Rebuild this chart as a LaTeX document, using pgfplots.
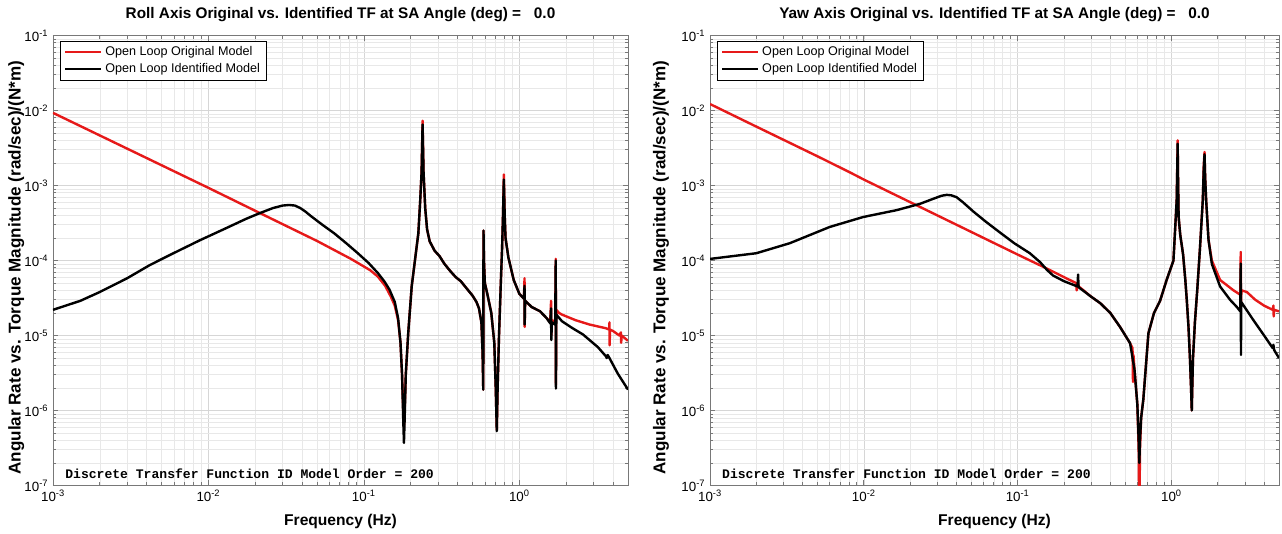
\documentclass[border=0pt]{standalone}
\usepackage{fontspec}
\setmainfont{Liberation Sans}
\newfontfamily\monofont{Liberation Mono}
\usepackage{pgfplots}
\pgfplotsset{compat=1.18}
\definecolor{origred}{RGB}{230,25,25}
\definecolor{framegray}{RGB}{120,120,120}
\pgfplotsset{every axis/.append style={
    scale only axis,
    height=337.5pt,
    xmin=1e-3, xmax=5, ymin=1e-7, ymax=1e-1,
    xtick={1e-3,1e-2,1e-1,1},
    xticklabels={10\textsuperscript{-3},10\textsuperscript{-2},10\textsuperscript{-1},10\textsuperscript{0}},
    ytick={1e-7,1e-6,1e-5,1e-4,1e-3,1e-2,1e-1},
    yticklabels={10\textsuperscript{-7},10\textsuperscript{-6},10\textsuperscript{-5},10\textsuperscript{-4},10\textsuperscript{-3},10\textsuperscript{-2},10\textsuperscript{-1}},
    minor xtick={0.002,0.003,0.004,0.005,0.006,0.007,0.008,0.009,0.02,0.03,0.04,0.05,0.06,0.07,0.08,0.09,0.2,0.3,0.4,0.5,0.6,0.7,0.8,0.9,2,3,4,5},
    minor ytick={2e-7,3e-7,4e-7,5e-7,6e-7,7e-7,8e-7,9e-7,2e-6,3e-6,4e-6,5e-6,6e-6,7e-6,8e-6,9e-6,2e-5,3e-5,4e-5,5e-5,6e-5,7e-5,8e-5,9e-5,2e-4,3e-4,4e-4,5e-4,6e-4,7e-4,8e-4,9e-4,2e-3,3e-3,4e-3,5e-3,6e-3,7e-3,8e-3,9e-3,2e-2,3e-2,4e-2,5e-2,6e-2,7e-2,8e-2,9e-2},
    grid=both,
    major grid style={gray!32, line width=0.4pt},
    minor grid style={gray!18, line width=0.4pt},
    tick align=inside,
    axis line style={framegray, line width=0.6pt},
    major tick style={framegray, line width=0.5pt},
    minor tick style={framegray, line width=0.5pt},
    major tick length=4pt, minor tick length=2.5pt,
    tick label style={font=\fontsize{10}{12}\selectfont},
    xlabel={Frequency (Hz)},
    ylabel={Angular Rate vs. Torque Magnitude (rad/sec)/(N*m)},
    xlabel style={font=\bfseries\fontsize{11.7}{13}\selectfont},
    ylabel style={font=\bfseries\fontsize{12.8}{14}\selectfont},
    title style={font=\bfseries\fontsize{11.5}{13}\selectfont, yshift=1pt},
    xlabel style={at={(axis description cs:0.5,-0.081)}, anchor=center},
    legend style={at={(rel axis cs:0.012,0.988)}, anchor=north west, draw=black, fill=white,
      font=\fontsize{9.45}{11}\selectfont, inner xsep=3pt, inner ysep=2pt, row sep=0.5pt},
    legend cell align=left,
  },
  every axis plot/.append style={line width=1.8pt, line join=round},
}
\begin{document}
\begin{tikzpicture}
\useasboundingbox (0,0) rectangle (961.5pt,400.5pt);
% ---------------- Roll axis ----------------
\begin{loglogaxis}[width=431.25pt, at={(39.75pt,36.375pt)}, anchor=south west,
  title={Roll Axis Original vs. Identified TF at SA Angle (deg) = \ \ 0.0},
  ylabel style={at={(axis description cs:-0.064,0.484)}, anchor=center},
  legend image code/.code={\draw[#1] (0cm,0cm) -- (0.95cm,0cm);}]
\addplot[origred] coordinates {
(0.001,9.3e-3)(0.002,4.65e-3)(0.005,1.86e-3)(0.01,9.3e-4)(0.02,4.6e-4)(0.05,1.82e-4)
(0.0826,1.05e-4)(0.11,7.4e-5)(0.123,6.1e-5)(0.137,4.6e-5)(0.149,3.3e-5)(0.158,2.5e-5)
(0.166,1.6e-5)(0.172,8e-6)(0.176,3e-6)(0.179,1e-6)(0.181,6e-7)(0.183,1e-6)(0.186,3e-6)
(0.193,1.1e-5)(0.203,4.5e-5)(0.213,1e-4)(0.224,2.3e-4)(0.23,6e-4)(0.235,1.5e-3)(0.2385,7.3e-3)
(0.242,1.5e-3)(0.248,5e-4)(0.255,2.6e-4)(0.265,1.8e-4)(0.285,1.35e-4)(0.306,1.15e-4)(0.33,9e-5)
(0.36,7.2e-5)(0.39,6e-5)(0.42,5.3e-5)(0.46,4.2e-5)(0.5,3.4e-5)(0.53,2.8e-5)
(0.55,2.3e-5)(0.57,1.5e-5)(0.58,6e-6)(0.586,1.9e-6)(0.588,2.5e-4)(0.592,1e-4)
(0.6,5e-5)(0.622,3.6e-5)(0.66,2e-5)(0.69,8e-6)(0.705,2e-6)(0.716,5.5e-7)(0.725,2e-6)
(0.74,1e-5)(0.76,5e-5)(0.775,1.5e-4)(0.785,4e-4)(0.795,1.4e-3)(0.805,4e-4)(0.815,2e-4)
(0.85,1.1e-4)(0.92,5.5e-5)(1.0,3.6e-5)(1.07,3.1e-5)(1.08,5.8e-5)(1.082,1.3e-5)(1.09,2.9e-5)
(1.2,2.4e-5)(1.36,2.1e-5)(1.5,1.7e-5)(1.58,1.5e-5)(1.6,2.9e-5)(1.605,1e-5)(1.62,1.6e-5)
(1.7,1.5e-5)(1.715,1.05e-4)(1.72,2.2e-6)(1.73,2.2e-5)(1.8,2e-5)(1.88,1.9e-5)(2.3,1.6e-5)
(2.83,1.4e-5)(3.6,1.25e-5)(3.79,1.2e-5)(3.8,1.5e-5)(3.81,7.4e-6)(3.83,1.2e-5)(4.0,1.15e-5)
(4.4,1e-5)(4.5,1.1e-5)(4.52,8e-6)(4.55,1e-5)(5.0,8.5e-6)
};
\addplot[black] coordinates {
(0.001,2.2e-5)(0.0015,2.9e-5)(0.002,3.8e-5)(0.003,5.8e-5)(0.0042,8.7e-5)(0.006,1.26e-4)
(0.0088,1.86e-4)(0.013,2.7e-4)(0.0175,3.6e-4)(0.0215,4.3e-4)(0.026,5.0e-4)(0.03,5.4e-4)
(0.033,5.5e-4)(0.036,5.4e-4)(0.039,5.0e-4)(0.042,4.5e-4)(0.0457,3.9e-4)(0.054,3.0e-4)(0.0645,2.3e-4)
(0.077,1.7e-4)(0.091,1.26e-4)(0.107,9.3e-5)
(0.123,6.8e-5)(0.136,5.2e-5)(0.146,4.1e-5)(0.158,2.8e-5)(0.166,1.7e-5)(0.172,8e-6)(0.176,3e-6)(0.179,8e-7)
(0.181,3.7e-7)(0.183,8e-7)(0.186,3e-6)(0.193,1.1e-5)(0.203,4.5e-5)(0.213,1e-4)(0.224,2.3e-4)
(0.23,6e-4)(0.235,1.5e-3)(0.2385,6.5e-3)(0.242,1.5e-3)(0.248,5e-4)(0.255,2.6e-4)(0.265,1.8e-4)
(0.285,1.35e-4)(0.306,1.15e-4)(0.33,9e-5)(0.36,7.2e-5)(0.39,6e-5)(0.42,5.3e-5)(0.46,4.2e-5)
(0.5,3.4e-5)(0.53,2.8e-5)(0.55,2.3e-5)(0.57,1.5e-5)(0.58,6e-6)
(0.586,1.9e-6)(0.588,2.5e-4)(0.592,1e-4)(0.6,5e-5)(0.622,3.6e-5)(0.66,2e-5)(0.69,8e-6)
(0.705,2e-6)(0.716,5.3e-7)(0.725,2e-6)(0.74,1e-5)(0.76,5e-5)(0.775,1.5e-4)(0.785,4e-4)
(0.795,1.2e-3)(0.805,4e-4)(0.815,2e-4)(0.85,1.1e-4)(0.92,5.5e-5)(1.0,3.6e-5)(1.07,3.1e-5)
(1.08,4.6e-5)(1.082,1.4e-5)(1.09,2.9e-5)(1.2,2.4e-5)(1.36,2.1e-5)(1.5,1.7e-5)(1.58,1.45e-5)
(1.6,2.3e-5)(1.605,8.7e-6)(1.62,1.5e-5)(1.7,1.4e-5)(1.715,1.0e-4)(1.72,1.96e-6)(1.73,1.9e-5)
(1.88,1.55e-5)(2.2,1.25e-5)(2.57,1.03e-5)(3.2,7e-6)(3.6,5.3e-6)(3.65,5e-6)(3.7,5.5e-6)
(3.8,5e-6)(4.3,3.1e-6)(5.0,1.9e-6)
};
\legend{Open Loop Original Model, Open Loop Identified Model}
\node[anchor=south west, inner sep=0pt, font=\monofont\bfseries\fontsize{9.8}{11}\selectfont]
  at (rel axis cs:0.021,0.014) {Discrete Transfer Function ID Model Order = 200};
\end{loglogaxis}
% ---------------- Yaw axis ----------------
\begin{loglogaxis}[width=426.75pt, at={(532.5pt,36.375pt)}, anchor=south west,
  title={Yaw Axis Original vs. Identified TF at SA Angle (deg) = \ \ 0.0},
  ylabel style={at={(axis description cs:-0.086,0.484)}, anchor=center},
  legend image code/.code={\draw[#1] (0cm,0cm) -- (0.95cm,0cm);}]
\addplot[origred] coordinates {
(0.001,1.22e-2)(0.002,6.1e-3)(0.005,2.45e-3)(0.0081,1.5e-3)(0.01,1.2e-3)(0.02,6e-4)
(0.05,2.4e-4)(0.1,1.2e-4)(0.155,7.8e-5)(0.2,6e-5)(0.24,5e-5)(0.242,4e-5)(0.245,5e-5)
(0.25,4.5e-5)(0.3,3.3e-5)(0.344,2.7e-5)(0.4,2e-5)(0.463,1.3e-5)(0.538,7.9e-6)(0.558,6.8e-6)
(0.562,2.4e-6)(0.566,5.5e-6)(0.575,3.5e-6)(0.6,1.2e-6)(0.612,3e-7)(0.618,3e-8)(0.624,3e-7)
(0.635,8e-7)(0.656,1.4e-6)(0.708,1.07e-5)(0.77,2e-5)(0.843,2.9e-5)(0.93,5.5e-5)(1.03,1e-4)
(1.081,6.4e-4)(1.09,1.8e-3)(1.097,4e-3)(1.102,1.5e-3)(1.113,3.8e-4)(1.14,2.2e-4)(1.19,1.2e-4)
(1.23,5.5e-5)(1.257,3e-5)(1.29,1.3e-5)(1.32,4.7e-6)(1.34,2e-6)(1.355,1e-6)(1.365,2e-6)
(1.38,5e-6)(1.42,1.5e-5)(1.47,4e-5)(1.53,1.4e-4)(1.598,6.4e-4)(1.62,1.8e-3)(1.64,2.8e-3)
(1.655,1.3e-3)(1.68,6.4e-4)(1.74,1.9e-4)(1.83,1e-4)(2.07,5.5e-5)(2.53,4e-5)
(2.8,3.5e-5)(2.82,1.3e-4)(2.83,2.7e-5)(2.85,4e-5)(3.09,3.8e-5)(3.5,3e-5)(4.0,2.5e-5)
(4.55,2.2e-5)(4.6,2.5e-5)(4.62,1.8e-5)(4.65,2.2e-5)(5.0,2.1e-5)
};
\addplot[black] coordinates {
(0.001,1.05e-4)(0.002,1.25e-4)(0.0033,1.7e-4)(0.006,2.8e-4)(0.0099,3.8e-4)(0.0164,4.7e-4)
(0.0232,5.7e-4)(0.028,6.6e-4)(0.032,7.3e-4)(0.0346,7.5e-4)(0.037,7.4e-4)(0.04,7.0e-4)
(0.044,6.0e-4)(0.0515,4.5e-4)(0.062,3.3e-4)(0.077,2.35e-4)(0.095,1.7e-4)
(0.12,1.25e-4)(0.14,9.5e-5)(0.155,7.5e-5)(0.17,6.3e-5)(0.2,5.3e-5)(0.245,4.5e-5)(0.247,6.5e-5)
(0.249,4.4e-5)(0.3,3.3e-5)(0.344,2.7e-5)(0.4,2e-5)(0.463,1.3e-5)(0.538,7.9e-6)(0.575,3.5e-6)
(0.6,1.2e-6)(0.612,4e-7)(0.618,2e-7)(0.624,4e-7)(0.635,8e-7)(0.656,1.4e-6)(0.708,1.07e-5)
(0.77,2e-5)(0.843,2.9e-5)(0.93,5.5e-5)(1.03,1e-4)
(1.081,6.4e-4)(1.09,1.6e-3)(1.097,3.6e-3)(1.102,1.5e-3)(1.113,3.8e-4)(1.14,2.2e-4)(1.19,1.2e-4)
(1.23,5.5e-5)(1.257,3e-5)(1.29,1.3e-5)(1.32,4.7e-6)(1.34,2e-6)(1.355,1e-6)(1.365,2e-6)
(1.38,5e-6)(1.42,1.5e-5)(1.47,4e-5)(1.53,1.4e-4)(1.598,6.4e-4)(1.62,1.6e-3)(1.64,2.6e-3)
(1.655,1.3e-3)(1.68,6.4e-4)(1.74,1.9e-4)(1.83,9e-5)(2.07,4.5e-5)(2.4,3e-5)(2.66,2.4e-5)
(2.8,2.1e-5)(2.82,9.1e-5)(2.83,5.5e-6)(2.84,2.8e-5)(3.41,1.6e-5)(4.0,1e-5)(4.55,6.8e-6)
(4.6,7.5e-6)(4.65,6.4e-6)(5.0,5e-6)
};
\legend{Open Loop Original Model, Open Loop Identified Model}
\node[anchor=south west, inner sep=0pt, font=\monofont\bfseries\fontsize{9.8}{11}\selectfont]
  at (rel axis cs:0.021,0.014) {Discrete Transfer Function ID Model Order = 200};
\end{loglogaxis}
\end{tikzpicture}
\end{document}
